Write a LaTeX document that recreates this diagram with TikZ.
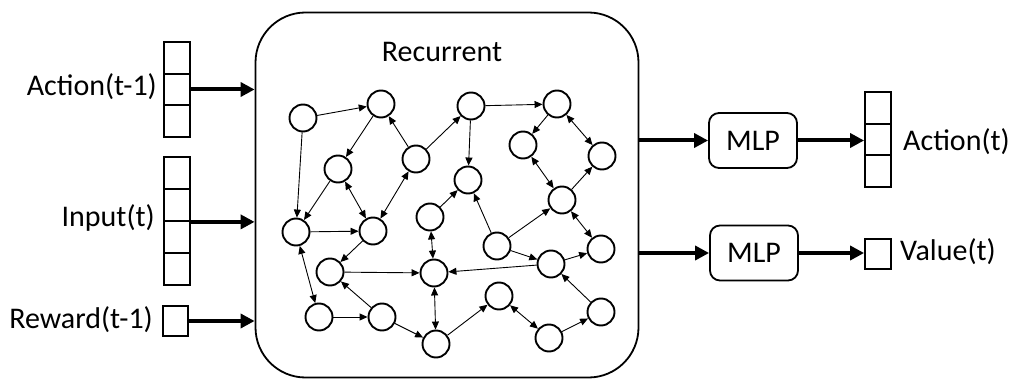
\documentclass[tikz,border=0pt]{standalone}
\usepackage{fontspec}
\setmainfont{Carlito}
\usetikzlibrary{arrows.meta}
\begin{document}
\begin{tikzpicture}[x=1pt,y=-1pt,
  neuron/.style={circle,draw,line width=1.9pt,minimum size=27pt,inner sep=0pt},
  syn/.style={line width=0.9pt,-{Triangle[length=8pt,width=7pt]}},
  bisyn/.style={line width=0.9pt,{Triangle[length=8pt,width=7pt]}-{Triangle[length=8pt,width=7pt]}},
  cell/.style={draw,line width=1.8pt,minimum width=26pt,minimum height=31.7pt,inner sep=0pt},
  big/.style={line width=4pt,-{Triangle[length=14pt,width=14pt]}},
  mlp/.style={draw,line width=1.8pt,rounded corners=10pt,minimum width=88pt,minimum height=55pt,inner sep=0pt,font=\fontsize{30}{36}\selectfont},
  lab/.style={inner sep=0pt,font=\fontsize{30}{36}\selectfont}]
\useasboundingbox (0,0) rectangle (1011,379);

% Recurrent block
\node[draw,line width=1.8pt,rounded corners=50pt,minimum width=383pt,minimum height=365pt,inner sep=0pt] (rec) at (447,195) {};
\node[lab] (tRec) at (442,52) {Recurrent};

% input vectors
\node[cell] (a1) at (177,57.8) {};
\node[cell] (a2) at (177,89.5) {};
\node[cell] (a3) at (177,121.2) {};
\node[cell,minimum height=32pt] (i1) at (177,173) {};
\node[cell,minimum height=32pt] (i2) at (177,205) {};
\node[cell,minimum height=32pt] (i3) at (177,237) {};
\node[cell,minimum height=32pt] (i4) at (177,269) {};
\node[cell,minimum width=25pt,minimum height=30pt] (r1) at (175.5,321) {};

\node[lab,anchor=east] (tA) at (157,87) {Action(t-1)};
\node[lab,anchor=east] (tI) at (155,218) {Input(t)};
\node[lab,anchor=east] (tR) at (153,320) {Reward(t-1)};

\draw[big] (a2.east) -- (a2.east -| rec.west);
\draw[big] (i2.south east) -- (i2.south east -| rec.west);
\draw[big] (r1.east) -- (r1.east -| rec.west);

% outputs
\node[mlp] (m1) at (753,140.5) {MLP};
\node[mlp] (m2) at (754,253) {MLP};
\node[cell] (o1) at (878,107.8) {};
\node[cell] (o2) at (878,139.5) {};
\node[cell] (o3) at (878,171.2) {};
\node[cell,minimum height=30pt] (v1) at (878,254) {};
\node[lab,anchor=west] (tAo) at (903,142) {Action(t)};
\node[lab,anchor=west] (tV) at (900,252) {Value(t)};

\draw[big] (rec.east |- m1.west) -- (m1.west);
\draw[big] (rec.east |- m2.west) -- (m2.west);
\draw[big] (m1.east) -- (m1.east -| o2.west);
\draw[big] (m2.east) -- (m2.east -| v1.west);

% network
\node[neuron] (A) at (303,118) {};
\node[neuron] (B) at (381,104) {};
\node[neuron] (C) at (338,169) {};
\node[neuron] (D) at (416,159) {};
\node[neuron] (E) at (296,232) {};
\node[neuron] (F) at (373,231) {};
\node[neuron] (G) at (430,217) {};
\node[neuron] (H) at (471,106) {};
\node[neuron] (I) at (468,180) {};
\node[neuron] (J) at (557,104) {};
\node[neuron] (K) at (523,145) {};
\node[neuron] (L) at (602,156) {};
\node[neuron] (M) at (562,200) {};
\node[neuron] (N) at (330,272) {};
\node[neuron] (O) at (434,273) {};
\node[neuron] (P) at (319,317) {};
\node[neuron] (Q) at (382,317) {};
\node[neuron] (R) at (436,344) {};
\node[neuron] (S) at (497,246) {};
\node[neuron] (T) at (551,264) {};
\node[neuron] (U) at (601,249) {};
\node[neuron] (V) at (499,296) {};
\node[neuron] (W) at (549,338) {};
\node[neuron] (X) at (601,312) {};

\draw[syn] (A) -- (B);
\draw[syn] (A) -- (E);
\draw[syn] (B) -- (C);
\draw[syn] (D) -- (B);
\draw[syn] (D) -- (H);
\draw[syn] (C) -- (E);
\draw[bisyn] (C) -- (F);
\draw[bisyn] (D) -- (F);
\draw[syn] (H) -- (I);
\draw[syn] (H) -- (J);
\draw[syn] (G) -- (I);
\draw[syn] (S) -- (I);
\draw[syn] (J) -- (K);
\draw[bisyn] (J) -- (L);
\draw[bisyn] (K) -- (M);
\draw[syn] (M) -- (L);
\draw[syn] (S) -- (M);
\draw[bisyn] (M) -- (U);
\draw[syn] (E) -- (F);
\draw[syn] (F) -- (N);
\draw[bisyn] (E) -- (P);
\draw[bisyn] (G) -- (O);
\draw[syn] (N) -- (O);
\draw[syn] (P) -- (Q);
\draw[syn] (Q) -- (N);
\draw[syn] (Q) -- (R);
\draw[bisyn] (O) -- (R);
\draw[syn] (T) -- (O);
\draw[syn] (S) -- (T);
\draw[syn] (T) -- (U);
\draw[syn] (X) -- (T);
\draw[syn] (R) -- (V);
\draw[bisyn] (V) -- (W);
\draw[syn] (W) -- (X);
\end{tikzpicture}
\end{document}
